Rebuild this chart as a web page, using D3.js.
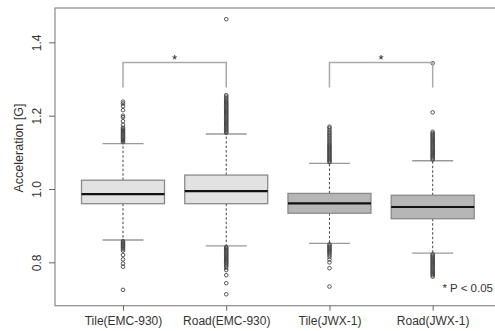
<!DOCTYPE html>
<meta charset="utf-8">
<script src="https://d3js.org/d3.v7.min.js"></script>
<style>
  body { margin: 0; background: #fff; }
  text { font-family: "Liberation Sans", Arial, sans-serif; fill: #222; }
</style>
<div id="chart"></div>
<script>

// categories and box statistics
const groups = ["Tile(EMC-930)", "Road(EMC-930)", "Tile(JWX-1)", "Road(JWX-1)"];
const lowWhisker = [0.861, 0.845, 0.852, 0.825];
const q1 = [0.960, 0.960, 0.934, 0.919];
const median = [0.986, 0.994, 0.961, 0.951];
const q3 = [1.024, 1.038, 0.988, 0.983];
const highWhisker = [1.124, 1.150, 1.070, 1.077];
const fills = ["#e2e2e2", "#e2e2e2", "#b6b6b6", "#b6b6b6"];

// outliers (dense runs are listed point by point as they appear)
const outliers = [
  [1.128, 1.131, 1.134, 1.137, 1.140, 1.143, 1.146, 1.149, 1.152, 1.155, 1.158, 1.161, 1.164, 1.167, 1.175, 1.185, 1.196, 1.200, 1.215, 1.226, 1.233, 1.238,
   0.858, 0.855, 0.852, 0.849, 0.846, 0.843, 0.840, 0.836, 0.832, 0.820, 0.808, 0.797, 0.788, 0.725],
  [1.153, 1.156, 1.159, 1.162, 1.165, 1.168, 1.171, 1.174, 1.177, 1.180, 1.183, 1.186, 1.189, 1.192, 1.195, 1.198, 1.201, 1.204, 1.207, 1.210, 1.213, 1.216, 1.219, 1.222, 1.225, 1.228, 1.231, 1.234, 1.237, 1.240, 1.244, 1.248, 1.252, 1.256, 1.463,
   0.842, 0.839, 0.836, 0.833, 0.830, 0.827, 0.824, 0.821, 0.818, 0.815, 0.812, 0.809, 0.806, 0.803, 0.800, 0.797, 0.794, 0.790, 0.785, 0.779, 0.765, 0.743, 0.713],
  [1.073, 1.076, 1.079, 1.082, 1.085, 1.088, 1.091, 1.094, 1.097, 1.100, 1.103, 1.106, 1.109, 1.112, 1.115, 1.118, 1.121, 1.124, 1.128, 1.132, 1.136, 1.140, 1.144, 1.148, 1.152, 1.156, 1.161, 1.166, 1.170,
   0.849, 0.846, 0.843, 0.840, 0.837, 0.834, 0.831, 0.828, 0.825, 0.820, 0.815, 0.808, 0.800, 0.784, 0.734],
  [1.080, 1.083, 1.086, 1.089, 1.092, 1.095, 1.098, 1.101, 1.104, 1.107, 1.110, 1.113, 1.116, 1.119, 1.122, 1.125, 1.128, 1.131, 1.134, 1.137, 1.140, 1.143, 1.146, 1.149, 1.152, 1.156, 1.209, 1.343,
   0.822, 0.819, 0.816, 0.813, 0.810, 0.807, 0.804, 0.801, 0.798, 0.795, 0.792, 0.789, 0.786, 0.783, 0.780, 0.777, 0.774, 0.771, 0.768, 0.765, 0.761]
];

const yTicks = [0.8, 1.0, 1.2, 1.4];

// significance brackets: pairs of group indices
const brackets = [[0, 1], [2, 3]];
const bracketTop = 1.345;
const bracketFoot = 1.277;

const W = 495, H = 331;
const plot = {left: 55, top: 8, right: 500, bottom: 305.7};

const svg = d3.select("#chart").append("svg")
  .attr("width", W)
  .attr("height", H);

const x = d3.scalePoint()
  .domain(groups)
  .range([123, 432.7]);

const y = d3.scaleLinear()
  .domain([0.6818, 1.4936])
  .range([plot.bottom, plot.top]);

const boxW = 83;
const capW = 41;

// frame
svg.append("rect")
  .attr("x", plot.left)
  .attr("y", plot.top)
  .attr("width", plot.right - plot.left)
  .attr("height", plot.bottom - plot.top)
  .attr("fill", "none")
  .attr("stroke", "#8a8a8a")
  .attr("stroke-width", 1.2);

// y axis
const yAxis = svg.append("g")
  .attr("transform", `translate(${plot.left},0)`)
  .call(d3.axisLeft(y).tickValues(yTicks).tickSize(6).tickFormat(d3.format(".1f")));
yAxis.select(".domain").remove();
yAxis.selectAll(".tick line").attr("stroke", "#666");
yAxis.selectAll(".tick text")
  .attr("transform", "rotate(-90)")
  .attr("x", 0)
  .attr("y", -14)
  .attr("dy", 0)
  .attr("text-anchor", "middle")
  .style("font-size", "12px")
  .style("fill", "#333");

svg.append("text")
  .attr("transform", "translate(19,148) rotate(-90)")
  .attr("text-anchor", "middle")
  .attr("dy", "0.35em")
  .style("font-size", "12.5px")
  .style("fill", "#333")
  .text("Acceleration [G]");

// x axis
const xAxis = svg.append("g")
  .attr("transform", `translate(0,${plot.bottom})`)
  .call(d3.axisBottom(x).tickSize(5).tickPadding(6));
xAxis.select(".domain").remove();
xAxis.selectAll(".tick line").attr("stroke", "#666");
xAxis.selectAll(".tick text")
  .style("font-size", "12px")
  .style("fill", "#333");

const boxes = svg.append("g")
  .selectAll("g")
  .data(groups)
  .join("g");

// whiskers
boxes.append("line")
  .attr("x1", d => x(d)).attr("x2", d => x(d))
  .attr("y1", (d, i) => y(q3[i])).attr("y2", (d, i) => y(highWhisker[i]))
  .attr("stroke", "#444").attr("stroke-dasharray", "2.5,2");
boxes.append("line")
  .attr("x1", d => x(d)).attr("x2", d => x(d))
  .attr("y1", (d, i) => y(q1[i])).attr("y2", (d, i) => y(lowWhisker[i]))
  .attr("stroke", "#444").attr("stroke-dasharray", "2.5,2");

// caps
[highWhisker, lowWhisker].forEach(arr => {
  boxes.append("line")
    .attr("x1", d => x(d) - capW / 2).attr("x2", d => x(d) + capW / 2)
    .attr("y1", (d, i) => y(arr[i])).attr("y2", (d, i) => y(arr[i]))
    .attr("stroke", "#999").attr("stroke-width", 1.3);
});

// boxes
boxes.append("rect")
  .attr("x", d => x(d) - boxW / 2)
  .attr("width", boxW)
  .attr("y", (d, i) => y(q3[i]))
  .attr("height", (d, i) => y(q1[i]) - y(q3[i]))
  .attr("fill", (d, i) => fills[i])
  .attr("stroke", "#8a8a8a")
  .attr("stroke-width", 1.3);

// medians
boxes.append("line")
  .attr("x1", d => x(d) - boxW / 2).attr("x2", d => x(d) + boxW / 2)
  .attr("y1", (d, i) => y(median[i])).attr("y2", (d, i) => y(median[i]))
  .attr("stroke", "#111").attr("stroke-width", 2.2);

// outliers
boxes.each(function(d, i) {
  d3.select(this).selectAll("circle")
    .data(outliers[i])
    .join("circle")
    .attr("cx", x(d))
    .attr("cy", v => y(v))
    .attr("r", 1.8)
    .attr("fill", "none")
    .attr("stroke", "#444")
    .attr("stroke-width", 0.9);
});

// significance brackets
brackets.forEach(([a, b]) => {
  const xa = x(groups[a]), xb = x(groups[b]);
  svg.append("path")
    .attr("d", `M${xa},${y(bracketFoot)}V${y(bracketTop)}H${xb}V${y(bracketFoot)}`)
    .attr("fill", "none")
    .attr("stroke", "#aaa")
    .attr("stroke-width", 1.5);
  svg.append("text")
    .attr("x", (xa + xb) / 2)
    .attr("y", y(bracketTop) + 2)
    .attr("text-anchor", "middle")
    .style("font-size", "13px")
    .text("*");
});

svg.append("text")
  .attr("x", 493)
  .attr("y", 292)
  .attr("text-anchor", "end")
  .style("font-size", "11.5px")
  .style("fill", "#333")
  .text("* P < 0.05");

</script>
